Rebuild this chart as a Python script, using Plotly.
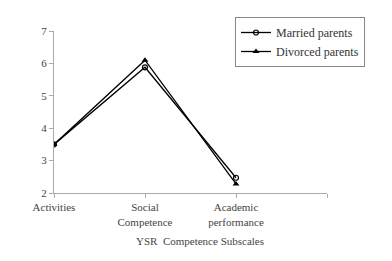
import plotly.graph_objects as go

categories = ["Activities", "Social<br>Competence", "Academic<br>performance"]
married = [3.5, 5.88, 2.47]
divorced = [3.5, 6.1, 2.28]
y_ticks = [2, 3, 4, 5, 6, 7]

font = "Liberation Serif, DejaVu Serif, serif"
x = list(range(len(categories)))

fig = go.Figure()
fig.add_trace(go.Scatter(
    x=x, y=married, name="Married parents", mode="lines+markers",
    line=dict(color="black", width=1.3),
    marker=dict(symbol="circle-open", size=5, color="black", line=dict(width=1.2)),
))
fig.add_trace(go.Scatter(
    x=x, y=divorced, name="Divorced parents", mode="lines+markers",
    line=dict(color="black", width=1.3),
    marker=dict(symbol="triangle-up", size=6, color="black"),
))

fig.update_layout(
    width=392, height=261,
    margin=dict(l=54, r=65, t=31, b=68, autoexpand=False),
    paper_bgcolor="white", plot_bgcolor="white",
    font=dict(family=font, size=11, color="#444"),
    showlegend=True,
    legend=dict(
        x=(235 - 54) / 273, y=(193 - 17) / 162, xanchor="left", yanchor="top",
        bordercolor="#888", borderwidth=1, bgcolor="white",
        font=dict(family=font, size=12, color="#333"),
        tracegroupgap=0, itemwidth=30,
    ),
    xaxis=dict(
        range=[0, 3], tickvals=[0, 1, 2, 3], ticktext=categories + [""],
        showgrid=False, zeroline=False, showline=True, linecolor="#aaa", linewidth=1,
        ticks="outside", ticklen=4, tickcolor="#aaa",
        tickfont=dict(family=font, size=11, color="#444"),
    ),
    yaxis=dict(
        range=[2, 7], tickvals=y_ticks,
        showgrid=False, zeroline=False, showline=True, linecolor="#aaa", linewidth=1,
        ticks="outside", ticklen=4, tickcolor="#aaa",
        tickfont=dict(family=font, size=11, color="#444"),
    ),
    annotations=[dict(
        text="YSR  Competence Subscales",
        x=(200 - 54) / 273, y=(193 - 241) / 162, xref="paper", yref="paper",
        xanchor="center", yanchor="middle",
        showarrow=False, font=dict(family=font, size=11, color="#444"),
    )],
)

fig.write_html("out.html", config={"displayModeBar": False},
               post_script="document.body.style.margin='0';")
